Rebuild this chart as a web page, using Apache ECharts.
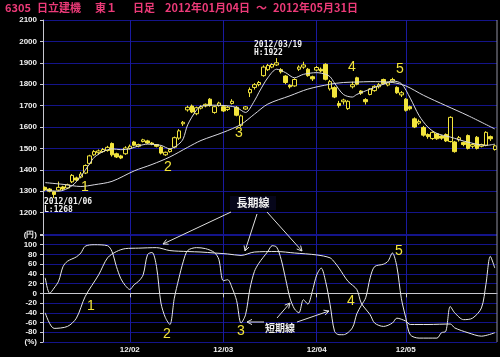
<!DOCTYPE html>
<html><head><meta charset="utf-8">
<script src="https://cdn.jsdelivr.net/npm/echarts@6/dist/echarts.min.js"></script>
<style>html,body{margin:0;padding:0;background:#000;}#c{width:500px;height:357px;}</style>
</head><body><div id="c"></div>
<script>
const dates = [
'2012/01/04','2012/01/05','2012/01/06','2012/01/10','2012/01/11','2012/01/12','2012/01/13','2012/01/16','2012/01/17','2012/01/18','2012/01/19','2012/01/20','2012/01/23','2012/01/24','2012/01/25','2012/01/26','2012/01/27','2012/01/30','2012/01/31',
'2012/02/01','2012/02/02','2012/02/03','2012/02/06','2012/02/07','2012/02/08','2012/02/09','2012/02/10','2012/02/13','2012/02/14','2012/02/15','2012/02/16','2012/02/17','2012/02/20','2012/02/21','2012/02/22','2012/02/23','2012/02/24','2012/02/27','2012/02/28','2012/02/29',
'2012/03/01','2012/03/02','2012/03/05','2012/03/06','2012/03/07','2012/03/08','2012/03/09','2012/03/12','2012/03/13','2012/03/14','2012/03/15','2012/03/16','2012/03/19','2012/03/21','2012/03/22','2012/03/23','2012/03/26','2012/03/27','2012/03/28','2012/03/29','2012/03/30',
'2012/04/02','2012/04/03','2012/04/04','2012/04/05','2012/04/06','2012/04/09','2012/04/10','2012/04/11','2012/04/12','2012/04/13','2012/04/16','2012/04/17','2012/04/18','2012/04/19','2012/04/20','2012/04/23','2012/04/24','2012/04/25','2012/04/26','2012/04/27',
'2012/05/01','2012/05/02','2012/05/07','2012/05/08','2012/05/09','2012/05/10','2012/05/11','2012/05/14','2012/05/15','2012/05/16','2012/05/17','2012/05/18','2012/05/21','2012/05/22','2012/05/23','2012/05/24','2012/05/25','2012/05/28','2012/05/29','2012/05/30','2012/05/31'];

const openP  = [1318,1310,1298,1305,1320,1315,1344,1362,1366,1385,1430,1470,1480,1485,1490,1523,1475,1465,1475,
 1500,1530,1510,1532,1535,1525,1518,1506,1470,1485,1506,1548,1615,1680,1698,1662,1688,1698,1730,1668,1700,
 1695,1682,1710,1692,1608,1684,1760,1785,1798,1840,1868,1880,1890,1868,1838,1795,1792,1870,1880,1870,1835,
 1866,1870,1893,1778,1784,1710,1718,1686,1788,1830,1768,1728,1752,1770,1788,1822,1796,1814,1785,1750,
 1730,1695,1638,1618,1598,1565,1546,1568,1558,1565,1532,1530,1540,1528,1560,1510,1552,1510,1515,1555,1495];
const closeP = [1308,1300,1285,1318,1310,1330,1374,1352,1380,1420,1465,1485,1488,1495,1505,1470,1460,1455,1502,
 1510,1515,1518,1540,1525,1520,1510,1478,1482,1495,1550,1582,1622,1692,1670,1690,1695,1706,1700,1695,1712,
 1675,1692,1720,1655,1652,1694,1775,1798,1808,1880,1888,1892,1900,1858,1808,1788,1822,1880,1890,1840,1825,
 1878,1862,1823,1812,1740,1700,1726,1720,1798,1800,1758,1718,1778,1790,1798,1802,1806,1822,1760,1760,
 1678,1685,1600,1626,1562,1555,1575,1545,1548,1535,1645,1485,1550,1518,1500,1518,1500,1518,1575,1545,1512];
const lowP   = [1300,1295,1268,1300,1305,1310,1338,1345,1360,1380,1425,1465,1470,1480,1485,1462,1455,1450,1470,
 1495,1510,1505,1528,1520,1515,1505,1472,1465,1480,1500,1540,1605,1672,1665,1655,1682,1692,1695,1662,1695,
 1670,1675,1705,1650,1600,1680,1740,1775,1790,1835,1862,1875,1885,1850,1800,1780,1788,1862,1872,1835,1815,
 1860,1855,1818,1770,1735,1690,1705,1680,1780,1795,1750,1705,1748,1765,1780,1798,1790,1808,1755,1740,
 1672,1678,1595,1610,1555,1545,1540,1540,1540,1530,1528,1480,1532,1510,1495,1500,1495,1505,1510,1535,1490];
const highP  = [1322,1315,1300,1345,1325,1335,1380,1368,1390,1425,1470,1492,1495,1502,1512,1528,1480,1470,1510,
 1518,1535,1522,1545,1540,1530,1520,1512,1485,1500,1555,1590,1628,1700,1705,1695,1702,1710,1735,1700,1718,
 1700,1698,1730,1698,1658,1698,1785,1805,1815,1888,1895,1898,1922,1875,1842,1800,1828,1888,1905,1876,1840,
 1885,1878,1898,1820,1790,1722,1732,1725,1812,1835,1772,1735,1782,1795,1805,1826,1812,1830,1790,1768,
 1735,1700,1645,1635,1605,1570,1580,1572,1562,1570,1650,1535,1558,1532,1565,1525,1558,1522,1580,1560,1518];

// moving averages: [day index, price]
const maShort = [[0,1305],[3,1300],[6,1325],[8,1370],[10,1429],[11,1458],[13,1485],[15,1498],[17,1494],[19,1498],[21,1512],[23,1520],[26,1514],[28,1498],[30,1520],[31,1545],[32,1610],[34,1680],[35,1697],[38,1702],[41,1699],[43,1691],[45,1668],[47,1722],[48,1761],[50,1830],[52,1870],[54,1854],[56,1830],[58,1846],[61,1854],[63,1846],[64,1835],[65,1805],[67,1752],[69,1740],[70,1752],[73,1777],[76,1800],[78,1815],[80,1803],[82,1735],[84,1653],[86,1599],[88,1570],[91,1553],[95,1529],[99,1514],[101,1520]];
const maLong = [[0,1340],[4,1332],[8,1322],[11,1330],[15,1346],[20,1395],[24,1425],[28,1460],[32,1505],[35,1537],[40,1575],[44,1612],[47,1660],[50,1707],[55,1746],[59,1777],[64,1800],[67,1808],[70,1810],[73,1812],[78,1808],[81,1792],[85,1748],[90,1700],[95,1653],[101,1591]];

// oscillator lines: [day index, value]
const oscShort = [[0,32],[1,0],[2,11],[3,25],[4,55],[5,66],[7,75],[8,83],[9,97],[11,100],[14,98],[15,86],[16,55],[17,30],[18,16],[19,8],[20,18],[21,25],[22,38],[23,80],[24,84],[25,55],[26,-20],[27,-50],[28,-64],[29,-10],[30,30],[31,65],[32,88],[34,94],[36,92],[38,84],[39,70],[40,26],[41,28],[42,11],[43,-15],[44,-61],[45,-44],[46,10],[47,45],[48,62],[50,86],[51,98],[52,95],[53,70],[54,30],[55,-10],[56,-32],[57,-40],[58,-13],[59,-22],[60,4],[61,38],[62,52],[63,24],[64,-23],[65,-78],[66,-85],[67,-85],[69,-71],[70,-42],[71,-25],[72,-9],[73,32],[74,55],[76,60],[77,66],[78,83],[79,55],[80,-10],[81,-50],[82,-85],[84,-92],[88,-92],[89,-81],[90,-78],[91,-27],[92,-40],[94,-54],[96,-51],[98,-30],[99,18],[100,76],[101,52]];
const oscLong = [[0,-40],[2,-72],[5,-68],[7,-51],[9,-6],[12,38],[14,73],[16,86],[18,92],[21,93],[25,94],[28,88],[32,86],[35,85],[38,83],[41,81],[44,78],[47,85],[52,86],[56,83],[61,79],[64,73],[65,64],[66,52],[68,25],[70,8],[71,-20],[73,-44],[74,-61],[76,-68],[78,-61],[79,-51],[81,-57],[82,-64],[86,-64],[91,-63],[92,-71],[95,-81],[98,-88],[101,-81]];

const monthStarts = ['2012/02/01','2012/03/01','2012/04/02','2012/05/01'];
const title = ['6305','日立建機','東１','日足','2012年01月04日','～','2012年05月31日'];

const candles = dates.map((d,i)=>[openP[i],closeP[i],lowP[i],highP[i]]);
const YEL = '#f2e43c', BLUE = '#14148a', WHITE = '#d8d8e0';
const isMonth = (i, v) => monthStarts.indexOf(v) >= 0;

function arrow(x1,y1,x2,y2){
  const a = Math.atan2(y2-y1,x2-x1), L=5, W=2.6;
  const bx=x2-L*Math.cos(a), by=y2-L*Math.sin(a);
  const px=-Math.sin(a)*W, py=Math.cos(a)*W;
  return [
    {type:'line',z:100,shape:{x1,y1,x2,y2},style:{stroke:'#e0e0e0',lineWidth:1}},
    {type:'polyline',z:100,shape:{points:[[bx+px,by+py],[x2,y2],[bx-px,by-py]]},style:{stroke:'#e0e0e0',lineWidth:1,fill:null}}
  ];
}
function txt(x,y,s,font,color,align){
  return {type:'text',z:100,x,y,style:{text:s,font,fill:color,align:align||'left',verticalAlign:'middle'}};
}
const TF = 'bold 11px "Noto Sans CJK JP"';
const NF = '14px "Liberation Sans"';
const MF = 'bold 8px "DejaVu Sans Mono"';

const titleX = [5,37,95,133,165,256,273];
const graphics = [];
title.forEach((s,k)=>graphics.push(txt(titleX[k],8,s,TF,'#ec3a78')));
[['1',85,187],['2',168,167],['3',239,133],['4',352,67],['5',400,69],
 ['1',91,306],['2',167,334],['3',241,331],['4',351,301],['5',399,251]].forEach(t=>graphics.push(txt(t[1],t[2],t[0],NF,YEL,'center')));
graphics.push(txt(44,202,'2012/01/06',MF,'#f0f0f0'));
graphics.push(txt(44,210,'L:1268',MF,'#f0f0f0'));
graphics.push(txt(254,45,'2012/03/19',MF,'#f0f0f0'));
graphics.push(txt(254,53,'H:1922',MF,'#f0f0f0'));
graphics.push({type:'rect',z:99,shape:{x:230,y:196,width:46,height:14},style:{fill:'#06061a'}});
graphics.push(txt(253,203,'長期線','bold 11px "Noto Sans CJK JP"','#f0f0f0','center'));
graphics.push(txt(280,328,'短期線','bold 10px "Noto Sans CJK JP"','#f0f0f0','center'));
[[231,212,163,244],[257,214,245,251],[267,212,302,251],
 [264,322,247,322],[277,318,290,303],[297,322,329,311]].forEach(a=>graphics.push(...arrow(...a)));
graphics.push({type:'line',z:50,shape:{x1:497,y1:20,x2:497,y2:342},style:{stroke:'#9090a0',lineWidth:1}});

const axisLabelStyle = {color:'#f0f0f0', fontSize:8, fontWeight:'bold', fontFamily:'Liberation Sans', margin:6};

const chart = echarts.init(document.getElementById('c'), null, {renderer:'canvas'});
chart.setOption({
  backgroundColor:'#000',
  animation:false,
  graphic: graphics,
  grid:[
    {left:43, top:20, width:454, height:214},
    {left:43, top:235, width:454, height:107}
  ],
  xAxis:[
    {type:'category', gridIndex:0, data:dates, boundaryGap:true,
     axisLine:{show:false}, axisTick:{show:false}, axisLabel:{show:false},
     splitLine:{show:true, interval:isMonth, alignWithLabel:true, lineStyle:{color:'#1a1aa0',width:1}}},
    {type:'category', gridIndex:1, data:dates, boundaryGap:true,
     axisLine:{show:true, lineStyle:{color:'#c8c8d0',width:1}},
     axisTick:{show:true, interval:isMonth, alignWithLabel:true, length:4, lineStyle:{color:'#c8c8d0'}},
     axisLabel:{show:true, interval:isMonth, color:'#f0f0f0', fontSize:8, fontWeight:'bold', fontFamily:'Liberation Sans', margin:4,
       formatter:v=>v.slice(2,4)+'/'+v.slice(5,7)},
     splitLine:{show:true, interval:isMonth, alignWithLabel:true, lineStyle:{color:'#1a1aa0',width:1}}}
  ],
  yAxis:[
    {type:'value', gridIndex:0, min:1100, max:2100, interval:100,
     axisLine:{show:true, lineStyle:{color:'#c8c8d0'}},
     axisTick:{show:true, length:3, lineStyle:{color:'#c8c8d0'}},
     axisLabel:Object.assign({formatter:v=>v===1100?'':String(v)}, axisLabelStyle),
     splitLine:{show:true, lineStyle:{color:BLUE,width:1}}},
    {type:'value', gridIndex:1, min:-100, max:120, interval:20,
     axisLine:{show:true, lineStyle:{color:'#c8c8d0'}},
     axisTick:{show:true, length:3, lineStyle:{color:'#c8c8d0'}},
     axisLabel:Object.assign({formatter:v=>v===120?'(円)':(v===-100?'(%)':String(v))}, axisLabelStyle),
     splitLine:{show:true, lineStyle:{width:1, color:[BLUE,BLUE,BLUE,BLUE,BLUE,'#a8a8cc',BLUE,BLUE,BLUE,BLUE,BLUE,BLUE]}}}
  ],
  series:[
    {type:'candlestick', xAxisIndex:0, yAxisIndex:0, data:candles, barWidth:4, z:3,
     itemStyle:{color:'#000', color0:YEL, borderColor:YEL, borderColor0:YEL, borderWidth:1}},
    {type:'line', xAxisIndex:0, yAxisIndex:0, data:maShort, showSymbol:false, smooth:0.3, z:4,
     lineStyle:{color:WHITE, width:1}},
    {type:'line', xAxisIndex:0, yAxisIndex:0, data:maLong, showSymbol:false, smooth:0.3, z:4,
     lineStyle:{color:WHITE, width:1}},
    {type:'line', xAxisIndex:1, yAxisIndex:1, data:oscShort, showSymbol:false, smooth:0.3, z:4,
     lineStyle:{color:'#e8e8e8', width:1}},
    {type:'line', xAxisIndex:1, yAxisIndex:1, data:oscLong, showSymbol:false, smooth:0.3, z:4,
     lineStyle:{color:'#e8e8e8', width:1}}
  ]
});
</script></body></html>
